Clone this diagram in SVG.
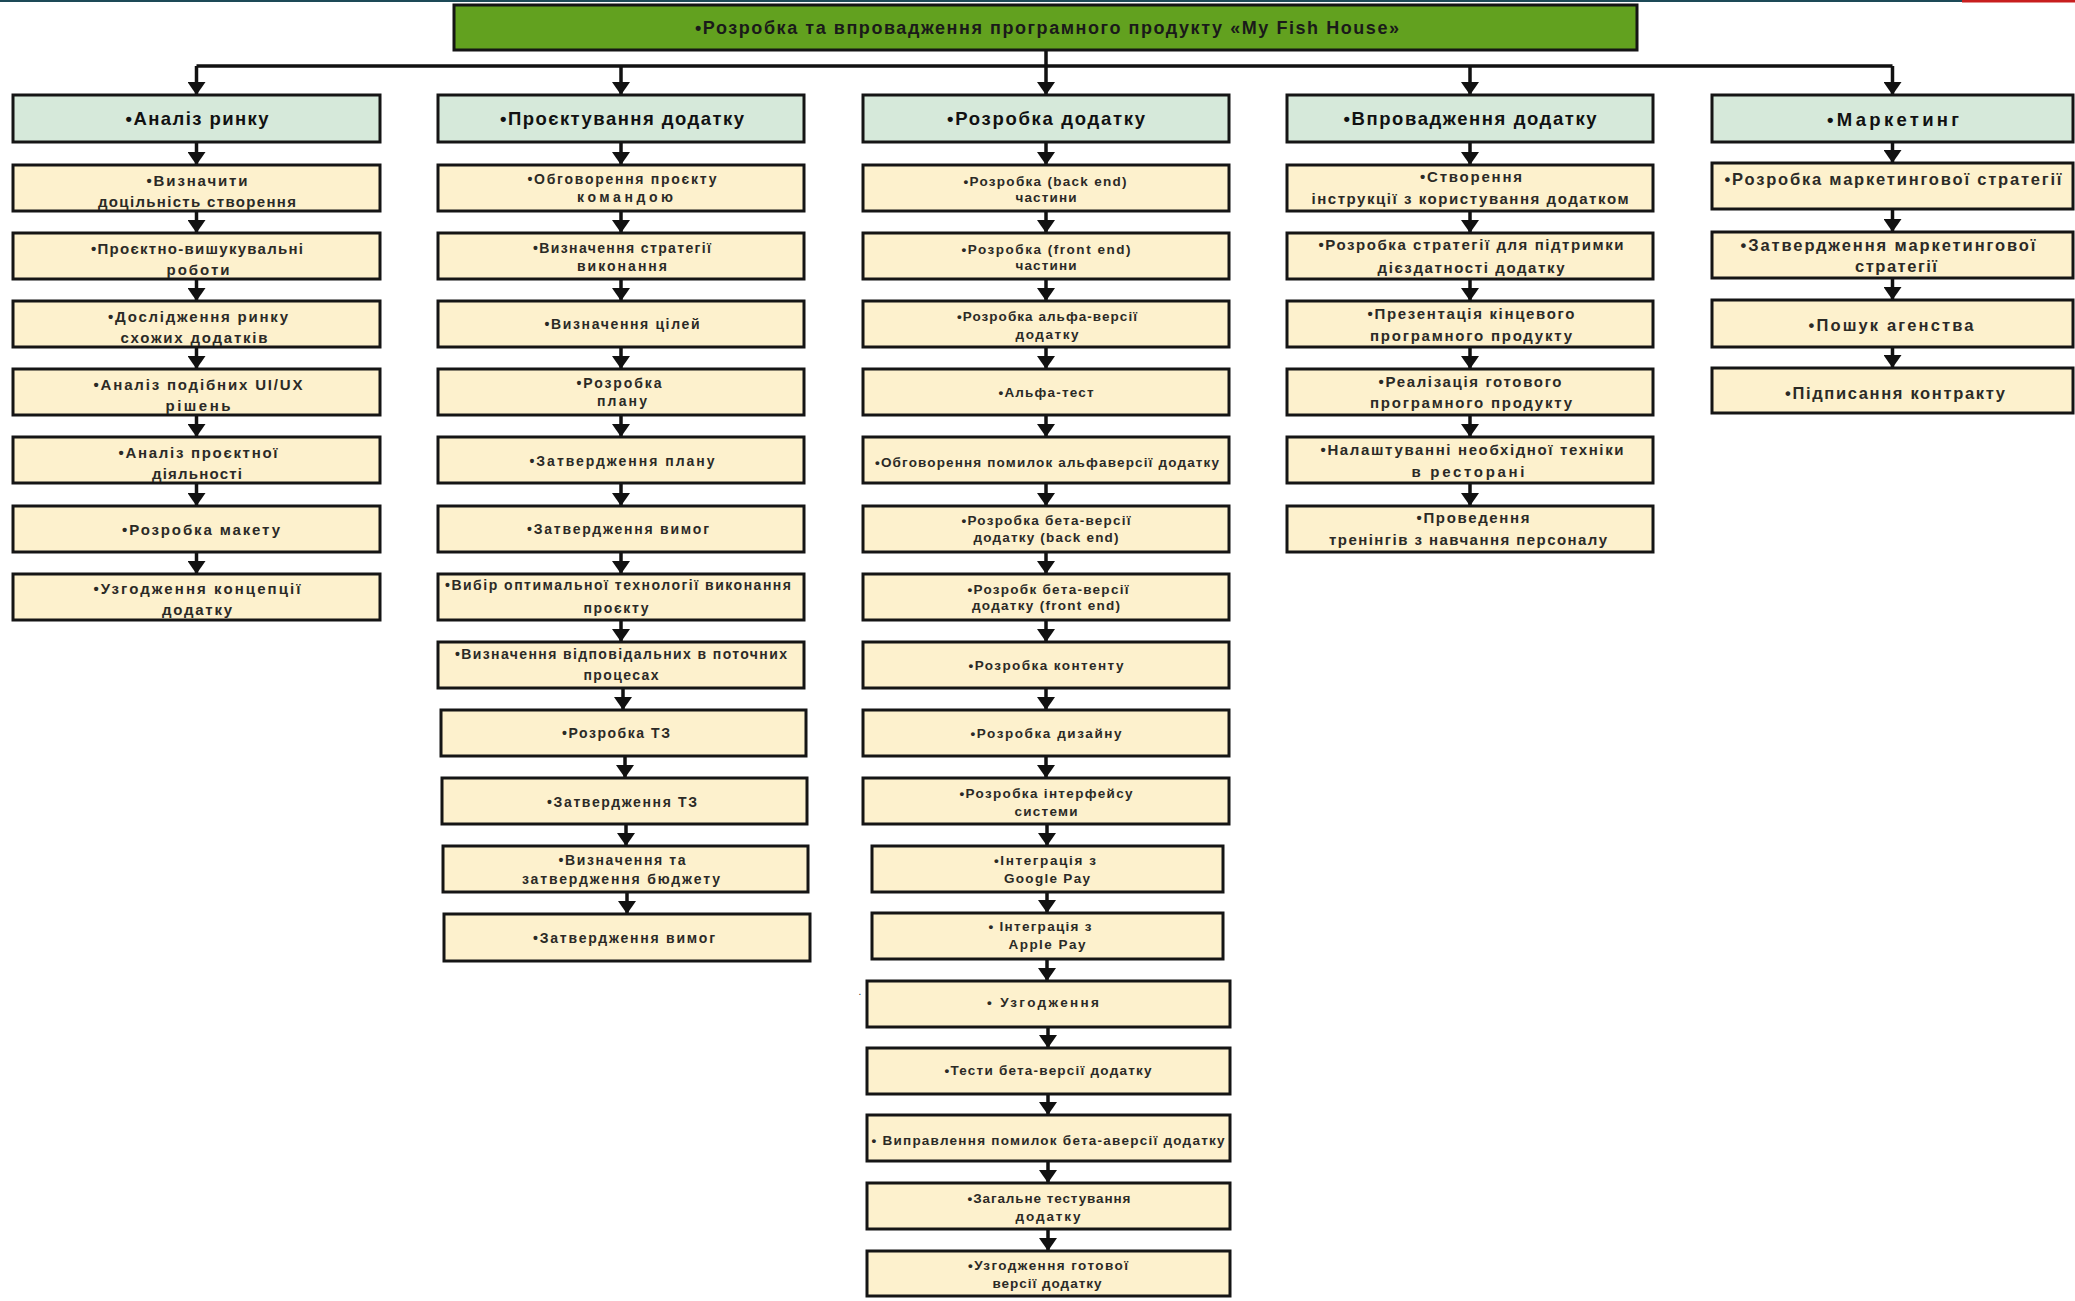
<svg xmlns="http://www.w3.org/2000/svg" width="2075" height="1301" viewBox="0 0 2075 1301">
<style>
.top{fill:#62a11f;stroke:#151515;stroke-width:3}
.hd{fill:#d6e9da;stroke:#151515;stroke-width:3}
.it{fill:#fdf1cd;stroke:#151515;stroke-width:3}
text{font-family:"Liberation Sans",Arial,sans-serif;font-weight:bold;text-anchor:middle;fill:#2b2a26}
.tt{font-size:18px;fill:#1a1a1a}
.ht{font-size:18.5px;fill:#111}
.a{font-size:15px}
.b{font-size:14px}
.c{font-size:13.5px}
.d{font-size:15px}
.e{font-size:16.5px}
.cn line{stroke:#111;stroke-width:3.5;fill:none}
</style>
<defs>
<marker id="ah" viewBox="0 0 13 18" refX="13" refY="9" markerWidth="13" markerHeight="18" markerUnits="userSpaceOnUse" orient="auto">
<path d="M0,0 L13,9 L0,18 z" fill="#111"/>
</marker>
</defs>
<rect x="0" y="0" width="2075" height="1301" fill="#ffffff"/>
<rect x="0" y="0" width="1962" height="2" fill="#1d4a57"/>
<rect x="1962" y="0" width="113" height="2.5" fill="#c81e1e"/>
<text x="860" y="995" style="font-size:10px;font-weight:normal">.</text>

<g class="cn">
<line x1="1046" y1="50" x2="1046" y2="66"/>
<line x1="196.5" y1="66" x2="1892.5" y2="66"/>
<line x1="196.5" y1="66" x2="196.5" y2="95" marker-end="url(#ah)"/>
<line x1="621" y1="66" x2="621" y2="95" marker-end="url(#ah)"/>
<line x1="1046" y1="66" x2="1046" y2="95" marker-end="url(#ah)"/>
<line x1="1470" y1="66" x2="1470" y2="95" marker-end="url(#ah)"/>
<line x1="1892.5" y1="66" x2="1892.5" y2="95" marker-end="url(#ah)"/>
<!-- column 1 -->
<line x1="196.5" y1="142" x2="196.5" y2="165" marker-end="url(#ah)"/>
<line x1="196.5" y1="211" x2="196.5" y2="233" marker-end="url(#ah)"/>
<line x1="196.5" y1="279" x2="196.5" y2="301" marker-end="url(#ah)"/>
<line x1="196.5" y1="347" x2="196.5" y2="369" marker-end="url(#ah)"/>
<line x1="196.5" y1="415" x2="196.5" y2="437" marker-end="url(#ah)"/>
<line x1="196.5" y1="483" x2="196.5" y2="506" marker-end="url(#ah)"/>
<line x1="196.5" y1="552" x2="196.5" y2="574" marker-end="url(#ah)"/>
<!-- column 2 -->
<line x1="621" y1="142" x2="621" y2="165" marker-end="url(#ah)"/>
<line x1="621" y1="211" x2="621" y2="233" marker-end="url(#ah)"/>
<line x1="621" y1="279" x2="621" y2="301" marker-end="url(#ah)"/>
<line x1="621" y1="347" x2="621" y2="369" marker-end="url(#ah)"/>
<line x1="621" y1="415" x2="621" y2="437" marker-end="url(#ah)"/>
<line x1="621" y1="483" x2="621" y2="506" marker-end="url(#ah)"/>
<line x1="621" y1="552" x2="621" y2="574" marker-end="url(#ah)"/>
<line x1="621" y1="620" x2="621" y2="642" marker-end="url(#ah)"/>
<line x1="623" y1="688" x2="623" y2="710" marker-end="url(#ah)"/>
<line x1="625" y1="756" x2="625" y2="778" marker-end="url(#ah)"/>
<line x1="626" y1="824" x2="626" y2="846" marker-end="url(#ah)"/>
<line x1="627" y1="892" x2="627" y2="914" marker-end="url(#ah)"/>
<!-- column 3 -->
<line x1="1046" y1="142" x2="1046" y2="165" marker-end="url(#ah)"/>
<line x1="1046" y1="211" x2="1046" y2="233" marker-end="url(#ah)"/>
<line x1="1046" y1="279" x2="1046" y2="301" marker-end="url(#ah)"/>
<line x1="1046" y1="347" x2="1046" y2="369" marker-end="url(#ah)"/>
<line x1="1046" y1="415" x2="1046" y2="437" marker-end="url(#ah)"/>
<line x1="1046" y1="483" x2="1046" y2="506" marker-end="url(#ah)"/>
<line x1="1046" y1="552" x2="1046" y2="574" marker-end="url(#ah)"/>
<line x1="1046" y1="620" x2="1046" y2="642" marker-end="url(#ah)"/>
<line x1="1046" y1="688" x2="1046" y2="710" marker-end="url(#ah)"/>
<line x1="1046" y1="756" x2="1046" y2="778" marker-end="url(#ah)"/>
<line x1="1047" y1="824" x2="1047" y2="846" marker-end="url(#ah)"/>
<line x1="1047" y1="892" x2="1047" y2="913" marker-end="url(#ah)"/>
<line x1="1047" y1="959" x2="1047" y2="981" marker-end="url(#ah)"/>
<line x1="1048" y1="1027" x2="1048" y2="1048" marker-end="url(#ah)"/>
<line x1="1048" y1="1094" x2="1048" y2="1115" marker-end="url(#ah)"/>
<line x1="1048" y1="1161" x2="1048" y2="1183" marker-end="url(#ah)"/>
<line x1="1048" y1="1229" x2="1048" y2="1251" marker-end="url(#ah)"/>
<!-- column 4 -->
<line x1="1470" y1="142" x2="1470" y2="165" marker-end="url(#ah)"/>
<line x1="1470" y1="211" x2="1470" y2="233" marker-end="url(#ah)"/>
<line x1="1470" y1="279" x2="1470" y2="301" marker-end="url(#ah)"/>
<line x1="1470" y1="347" x2="1470" y2="369" marker-end="url(#ah)"/>
<line x1="1470" y1="415" x2="1470" y2="437" marker-end="url(#ah)"/>
<line x1="1470" y1="483" x2="1470" y2="506" marker-end="url(#ah)"/>
<!-- column 5 -->
<line x1="1892.5" y1="142" x2="1892.5" y2="163" marker-end="url(#ah)"/>
<line x1="1892.5" y1="209" x2="1892.5" y2="232" marker-end="url(#ah)"/>
<line x1="1892.5" y1="278" x2="1892.5" y2="300" marker-end="url(#ah)"/>
<line x1="1892.5" y1="347" x2="1892.5" y2="368" marker-end="url(#ah)"/>
</g>

<g id="root"><rect class="top" x="454" y="5" width="1183" height="45"/><text class="tt" x="1047" y="34" textLength="704">•Розробка та впровадження програмного продукту «My Fish House»</text></g>

<g id="h1"><rect class="hd" x="13" y="95" width="367" height="47"/><text class="ht" x="197" y="125" textLength="143">•Аналіз ринку</text></g>
<g id="h2"><rect class="hd" x="438" y="95" width="366" height="47"/><text class="ht" x="622" y="125" textLength="244">•Проєктування додатку</text></g>
<g id="h3"><rect class="hd" x="863" y="95" width="366" height="47"/><text class="ht" x="1046" y="125" textLength="198">•Розробка додатку</text></g>
<g id="h4"><rect class="hd" x="1287" y="95" width="366" height="47"/><text class="ht" x="1470" y="125" textLength="253">•Впровадження додатку</text></g>
<g id="h5"><rect class="hd" x="1712" y="95" width="361" height="47"/><text class="ht" x="1893" y="125.5" textLength="132">•Маркетинг</text></g>

<!-- column 1 -->
<g id="c1n1"><rect class="it" x="13" y="165" width="367" height="46"/><text class="a" x="197" y="186" textLength="101">•Визначити</text><text class="a" x="197" y="207" textLength="198">доцільність створення</text></g>
<g id="c1n2"><rect class="it" x="13" y="233" width="367" height="46"/><text class="a" x="197" y="254" textLength="212">•Проєктно-вишукувальні</text><text class="a" x="198" y="275" textLength="63">роботи</text></g>
<g id="c1n3"><rect class="it" x="13" y="301" width="367" height="46"/><text class="a" x="198" y="322" textLength="180">•Дослідження ринку</text><text class="a" x="194" y="343" textLength="147">схожих додатків</text></g>
<g id="c1n4"><rect class="it" x="13" y="369" width="367" height="46"/><text class="a" x="198" y="390" textLength="209">•Аналіз подібних UI/UX</text><text class="a" x="198" y="411" textLength="65">рішень</text></g>
<g id="c1n5"><rect class="it" x="13" y="437" width="367" height="46"/><text class="a" x="198" y="458" textLength="159">•Аналіз проєктної</text><text class="a" x="197" y="479" textLength="90">діяльності</text></g>
<g id="c1n6"><rect class="it" x="13" y="506" width="367" height="46"/><text class="a" x="201" y="535" textLength="158">•Розробка макету</text></g>
<g id="c1n7"><rect class="it" x="13" y="574" width="367" height="46"/><text class="a" x="197" y="594" textLength="207">•Узгодження концепції</text><text class="a" x="197" y="615" textLength="70">додатку</text></g>

<!-- column 2 -->
<g id="c2n1"><rect class="it" x="438" y="165" width="366" height="46"/><text class="b" x="622" y="184" textLength="189">•Обговорення проєкту</text><text class="b" x="625" y="202" textLength="96">командою</text></g>
<g id="c2n2"><rect class="it" x="438" y="233" width="366" height="46"/><text class="b" x="622" y="253" textLength="178">•Визначення стратегії</text><text class="b" x="622" y="271" textLength="90">виконання</text></g>
<g id="c2n3"><rect class="it" x="438" y="301" width="366" height="46"/><text class="b" x="622" y="329" textLength="155">•Визначення цілей</text></g>
<g id="c2n4"><rect class="it" x="438" y="369" width="366" height="46"/><text class="b" x="619" y="388" textLength="85">•Розробка</text><text class="b" x="622" y="406" textLength="50">плану</text></g>
<g id="c2n5"><rect class="it" x="438" y="437" width="366" height="46"/><text class="b" x="622" y="466" textLength="185">•Затвердження  плану</text></g>
<g id="c2n6"><rect class="it" x="438" y="506" width="366" height="46"/><text class="b" x="618" y="533.5" textLength="182">•Затвердження вимог</text></g>
<g id="c2n7"><rect class="it" x="438" y="574" width="366" height="46"/><text class="b" x="618" y="590" textLength="346">•Вибір оптимальної технології виконання</text><text class="b" x="616" y="613" textLength="65">проєкту</text></g>
<g id="c2n8"><rect class="it" x="438" y="642" width="366" height="46"/><text class="b" x="621" y="659" textLength="332">•Визначення відповідальних в поточних</text><text class="b" x="621" y="680" textLength="75">процесах</text></g>
<g id="c2n9"><rect class="it" x="441" y="710" width="365" height="46"/><text class="b" x="616" y="737.5" textLength="108">•Розробка ТЗ</text></g>
<g id="c2n10"><rect class="it" x="442" y="778" width="365" height="46"/><text class="b" x="622" y="806.5" textLength="150">•Затвердження ТЗ</text></g>
<g id="c2n11"><rect class="it" x="443" y="846" width="365" height="46"/><text class="b" x="622" y="865" textLength="127">•Визначення та</text><text class="b" x="621" y="884" textLength="198">затвердження бюджету</text></g>
<g id="c2n12"><rect class="it" x="444" y="914" width="366" height="47"/><text class="b" x="624" y="942.5" textLength="182">•Затвердження вимог</text></g>

<!-- column 3 -->
<g id="c3n1"><rect class="it" x="863" y="165" width="366" height="46"/><text class="c" x="1045" y="186" textLength="163">•Розробка (back end)</text><text class="c" x="1046" y="202" textLength="61">частини</text></g>
<g id="c3n2"><rect class="it" x="863" y="233" width="366" height="46"/><text class="c" x="1046" y="253.5" textLength="169">•Розробка  (front end)</text><text class="c" x="1046" y="270" textLength="61">частини</text></g>
<g id="c3n3"><rect class="it" x="863" y="301" width="366" height="46"/><text class="c" x="1047" y="321" textLength="180">•Розробка альфа-версії</text><text class="c" x="1047" y="339" textLength="63">додатку</text></g>
<g id="c3n4"><rect class="it" x="863" y="369" width="366" height="46"/><text class="c" x="1046" y="397" textLength="95">•Альфа-тест</text></g>
<g id="c3n5"><rect class="it" x="863" y="437" width="366" height="46"/><text class="c" x="1047" y="467" textLength="344">•Обговорення помилок альфаверсії додатку</text></g>
<g id="c3n6"><rect class="it" x="863" y="506" width="366" height="46"/><text class="c" x="1046" y="525" textLength="169">•Розробка бета-версії</text><text class="c" x="1046" y="542" textLength="145">додатку (back end)</text></g>
<g id="c3n7"><rect class="it" x="863" y="574" width="366" height="46"/><text class="c" x="1048" y="593.5" textLength="161">•Розробк бета-версії</text><text class="c" x="1046" y="610" textLength="148">додатку (front end)</text></g>
<g id="c3n8"><rect class="it" x="863" y="642" width="366" height="46"/><text class="c" x="1046" y="670" textLength="155">•Розробка контенту</text></g>
<g id="c3n9"><rect class="it" x="863" y="710" width="366" height="46"/><text class="c" x="1046" y="737.5" textLength="151">•Розробка дизайну</text></g>
<g id="c3n10"><rect class="it" x="863" y="778" width="366" height="46"/><text class="c" x="1046" y="798" textLength="173">•Розробка інтерфейсу</text><text class="c" x="1046" y="816" textLength="63">системи</text></g>
<g id="c3n11"><rect class="it" x="872" y="846" width="351" height="46"/><text class="c" x="1045" y="865" textLength="102">•Інтеграція з</text><text class="c" x="1047" y="883" textLength="86">Google Pay</text></g>
<g id="c3n12"><rect class="it" x="872" y="913" width="351" height="46"/><text class="c" x="1040" y="931" textLength="103">• Інтеграція з</text><text class="c" x="1047" y="949" textLength="77">Apple Pay</text></g>
<g id="c3n13"><rect class="it" x="867" y="981" width="363" height="46"/><text class="c" x="1043" y="1007" textLength="112">• Узгодження</text></g>
<g id="c3n14"><rect class="it" x="867" y="1048" width="363" height="46"/><text class="c" x="1048" y="1074.5" textLength="207">•Тести бета-версії додатку</text></g>
<g id="c3n15"><rect class="it" x="867" y="1115" width="363" height="46"/><text class="c" x="1048" y="1144.5" textLength="353">• Виправлення помилок бета-аверсії додатку</text></g>
<g id="c3n16"><rect class="it" x="867" y="1183" width="363" height="46"/><text class="c" x="1049" y="1203" textLength="163">•Загальне тестування</text><text class="c" x="1048" y="1221" textLength="65">додатку</text></g>
<g id="c3n17"><rect class="it" x="867" y="1251" width="363" height="45"/><text class="c" x="1048" y="1270" textLength="160">•Узгодження готової</text><text class="c" x="1047" y="1287.5" textLength="109">версії додатку</text></g>

<!-- column 4 -->
<g id="c4n1"><rect class="it" x="1287" y="165" width="366" height="46"/><text class="d" x="1471" y="182" textLength="102">•Створення</text><text class="d" x="1470" y="204" textLength="317">інструкції з користування додатком</text></g>
<g id="c4n2"><rect class="it" x="1287" y="233" width="366" height="46"/><text class="d" x="1471" y="250" textLength="305">•Розробка стратегії для підтримки</text><text class="d" x="1471" y="273" textLength="187">дієздатності додатку</text></g>
<g id="c4n3"><rect class="it" x="1287" y="301" width="366" height="46"/><text class="d" x="1471" y="319" textLength="207">•Презентація кінцевого</text><text class="d" x="1471" y="341" textLength="202">програмного продукту</text></g>
<g id="c4n4"><rect class="it" x="1287" y="369" width="366" height="46"/><text class="d" x="1470" y="386.5" textLength="183">•Реалізація готового</text><text class="d" x="1471" y="408" textLength="202">програмного продукту</text></g>
<g id="c4n5"><rect class="it" x="1287" y="437" width="366" height="46"/><text class="d" x="1472" y="455" textLength="303">•Налаштуванні необхідної техніки</text><text class="d" x="1468" y="476.5" textLength="113">в ресторані</text></g>
<g id="c4n6"><rect class="it" x="1287" y="506" width="366" height="46"/><text class="d" x="1473" y="523" textLength="113">•Проведення</text><text class="d" x="1468" y="545" textLength="278">тренінгів з навчання персоналу</text></g>

<!-- column 5 -->
<g id="c5n1"><rect class="it" x="1712" y="163" width="361" height="46"/><text class="e" x="1893" y="185" textLength="337">•Розробка маркетингової стратегії</text></g>
<g id="c5n2"><rect class="it" x="1712" y="232" width="361" height="46"/><text class="e" x="1888" y="251" textLength="295">•Затвердження маркетингової</text><text class="e" x="1896" y="272" textLength="82">стратегії</text></g>
<g id="c5n3"><rect class="it" x="1712" y="300" width="361" height="47"/><text class="e" x="1891" y="330.5" textLength="165">•Пошук агенства</text></g>
<g id="c5n4"><rect class="it" x="1712" y="368" width="361" height="45"/><text class="e" x="1895" y="399" textLength="220">•Підписання контракту</text></g>
</svg>
